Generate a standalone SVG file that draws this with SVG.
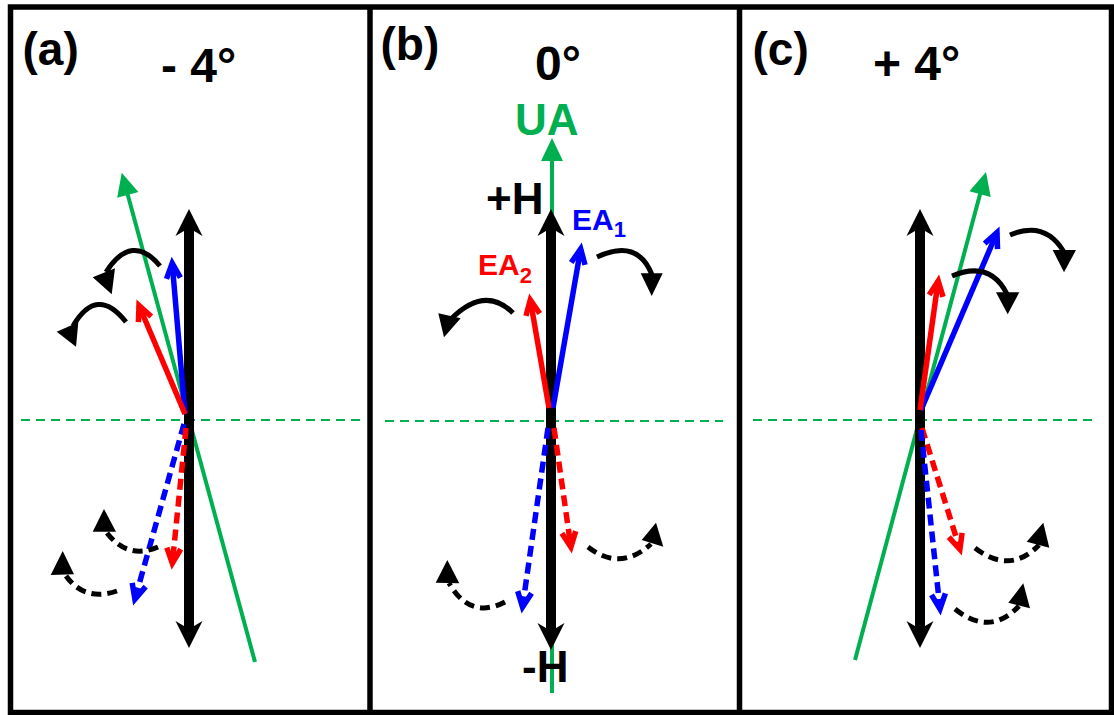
<svg xmlns="http://www.w3.org/2000/svg" width="1114" height="715" viewBox="0 0 1114 715">
<style>
.lbl{font-family:"Liberation Sans",Arial,sans-serif;font-weight:bold;fill:#000}
.frame{fill:none;stroke:#000;stroke-width:5.5}
.hline{stroke:#000;stroke-width:10}
.ua{stroke:#00B050;stroke-width:4}
.axis{stroke:#00B050;stroke-width:2;stroke-dasharray:9 6}
.bs{stroke:#0000FF;stroke-width:5.5;fill:none}
.rs{stroke:#FF0000;stroke-width:5.5;fill:none}
.dsh{stroke-dasharray:11 6}
.cv{fill:none;stroke:#000;stroke-width:5}
.cvd{fill:none;stroke:#000;stroke-width:5;stroke-dasharray:10 6}
.tri{fill:#000}
</style>
<defs>
<marker id="vB" markerUnits="userSpaceOnUse" orient="auto" overflow="visible" markerWidth="1" markerHeight="1">
<path d="M-15,-7 L0,0 L-15,7" fill="none" stroke="#0000FF" stroke-width="5.5"/>
</marker>
<marker id="vR" markerUnits="userSpaceOnUse" orient="auto" overflow="visible" markerWidth="1" markerHeight="1">
<path d="M-15,-7 L0,0 L-15,7" fill="none" stroke="#FF0000" stroke-width="5.5"/>
</marker>
<marker id="gT" markerUnits="userSpaceOnUse" orient="auto" overflow="visible" markerWidth="1" markerHeight="1">
<path d="M12,0 L-11,-11 L-11,11 Z" fill="#00B050"/>
</marker>
<marker id="hd" markerUnits="userSpaceOnUse" orient="auto-start-reverse" overflow="visible" markerWidth="1" markerHeight="1">
<path d="M19,0 L-8,-13.5 L0,0 L-8,13.5 Z" fill="#000"/>
</marker>
</defs>
<rect x="0" y="0" width="1114" height="715" fill="#fff"/>
<g id="frame">
<rect class="frame" x="10.5" y="7" width="1101" height="705.5"/>
<line class="frame" x1="370" y1="7" x2="370" y2="712.5"/>
<line class="frame" x1="739.5" y1="7" x2="739.5" y2="712.5"/>
</g>

<g id="panel-a">
<text class="lbl" x="22.5" y="65" font-size="46">(a)</text>
<text class="lbl" x="161" y="82" font-size="48">- 4°</text>
<line class="axis" x1="21" y1="420" x2="360" y2="420"/>
</g>
<g id="panel-b">
<text class="lbl" x="380.5" y="60" font-size="46">(b)</text>
<text class="lbl" x="535" y="80" font-size="48">0°</text>
<line class="axis" x1="385" y1="421" x2="723" y2="421"/>
<text class="lbl" x="515" y="135" font-size="44" style="fill:#00B050">UA</text>
</g>
<g id="panel-c">
<text class="lbl" x="752.5" y="65" font-size="46">(c)</text>
<text class="lbl" x="873" y="80" font-size="48">+ 4°</text>
<line class="axis" x1="753" y1="420" x2="1093" y2="420"/>
</g>

<g id="connectors">
<!-- panel a -->
<line class="ua" x1="255" y1="662" x2="124.9" y2="184.3" marker-end="url(#gT)"/>
<line class="hline" x1="189" y1="629" x2="189" y2="228" marker-start="url(#hd)" marker-end="url(#hd)"/>
<line class="bs" x1="185" y1="414" x2="172.2" y2="263.3" marker-end="url(#vB)"/>
<line class="rs" x1="185" y1="414" x2="139" y2="305.5" marker-end="url(#vR)"/>
<line class="bs dsh" x1="184" y1="424" x2="134.9" y2="599.2" marker-end="url(#vB)"/>
<line class="rs dsh" x1="186" y1="428" x2="172.3" y2="563.3" marker-end="url(#vR)"/>
<path class="cv" d="M160,266 Q132,232 106,272"/>
<polygon class="tri" points="92.7,277.3 115,268.3 111.7,294.3"/>
<path class="cv" d="M126,322 Q97,285 73,326"/>
<polygon class="tri" points="56.7,331.7 78.3,322.3 76,346.7"/>
<path class="cvd" d="M158,547 Q128,560 107,533"/>
<polygon class="tri" points="104,509 92.7,531.7 116,531.7"/>
<path class="cvd" d="M117,591 Q85,602 66,576"/>
<polygon class="tri" points="62.7,551 50.7,575 74,574.3"/>

<!-- panel b -->
<line class="ua" x1="552" y1="693" x2="552" y2="150" marker-end="url(#gT)"/>
<line class="hline" x1="551" y1="631" x2="551" y2="228" marker-start="url(#hd)" marker-end="url(#hd)"/>
<line class="bs" x1="553" y1="408" x2="580.7" y2="248.9" marker-end="url(#vB)"/>
<line class="rs" x1="549" y1="408" x2="530.3" y2="299.9" marker-end="url(#vR)"/>
<line class="bs dsh" x1="548" y1="428" x2="522.5" y2="607" marker-end="url(#vB)"/>
<line class="rs dsh" x1="554" y1="428" x2="570.9" y2="547" marker-end="url(#vR)"/>
<path class="cv" d="M513,313 Q485,285 451,319"/>
<polygon class="tri" points="438.3,313.3 460.7,318.3 444,337.3"/>
<path class="cv" d="M597,257 Q638,238 652,275"/>
<polygon class="tri" points="640.7,273.3 662.7,273.3 651.7,296"/>
<path class="cvd" d="M588,547 Q620,572 651,544"/>
<polygon class="tri" points="656,522.7 641.7,540 663.3,546.7"/>
<path class="cvd" d="M505,602 Q470,620 449,583"/>
<polygon class="tri" points="447.3,560 435.7,582.7 459.3,583.3"/>

<!-- panel c -->
<line class="ua" x1="855" y1="660" x2="982.9" y2="183.6" marker-end="url(#gT)"/>
<line class="hline" x1="920" y1="629" x2="920" y2="228" marker-start="url(#hd)" marker-end="url(#hd)"/>
<line class="bs" x1="921" y1="410" x2="997" y2="232.5" marker-end="url(#vB)"/>
<line class="rs" x1="920" y1="410" x2="938.2" y2="281" marker-end="url(#vR)"/>
<line class="rs dsh" x1="922" y1="428" x2="959.9" y2="549.3" marker-end="url(#vR)"/>
<line class="bs dsh" x1="921" y1="430" x2="940" y2="609" marker-end="url(#vB)"/>
<path class="cv" d="M1010,235 Q1045,220 1064,252"/>
<polygon class="tri" points="1052.7,250 1076,250 1064,272.3"/>
<path class="cv" d="M952,276 Q990,260 1007,294"/>
<polygon class="tri" points="996,292.3 1019.3,292.3 1007.7,314.3"/>
<path class="cvd" d="M975,548 Q1010,575 1039,545"/>
<polygon class="tri" points="1043.3,522.7 1026.7,541.7 1049.3,547.7"/>
<path class="cvd" d="M955,609 Q990,637 1019,606"/>
<polygon class="tri" points="1023.3,583.3 1008.3,602.7 1030,608.3"/>
</g>

<g id="labels-b">
<text class="lbl" x="486" y="214" font-size="44">+H</text>
<text class="lbl" x="522" y="682" font-size="44">-H</text>
<text class="lbl" x="572" y="230" font-size="30" style="fill:#0000FF">EA<tspan font-size="22" dy="7">1</tspan></text>
<text class="lbl" x="478" y="275" font-size="30" style="fill:#FF0000">EA<tspan font-size="22" dy="8">2</tspan></text>
</g>
</svg>
